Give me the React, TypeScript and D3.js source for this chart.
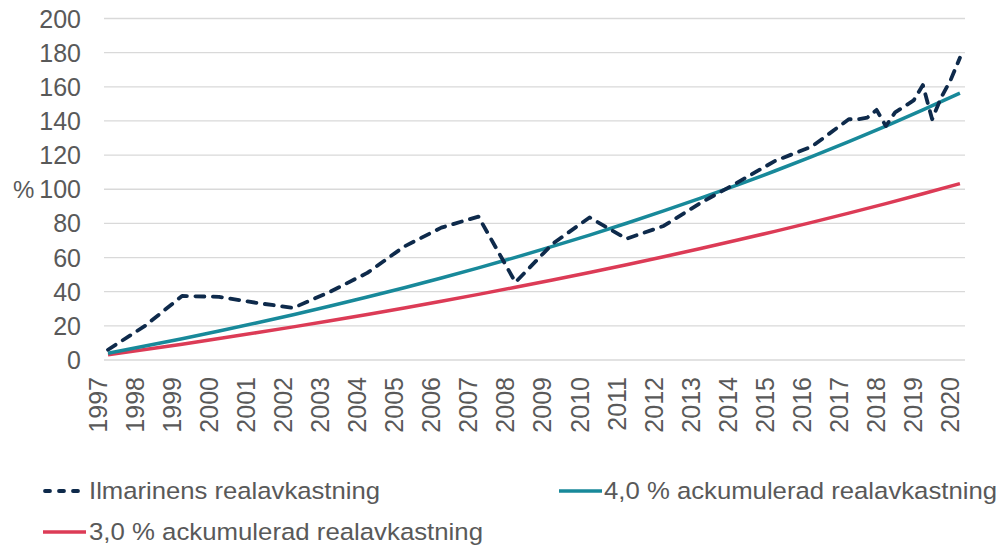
import React from "react";
import * as d3 from "d3";

// ---- data ----
const years = [1997, 1998, 1999, 2000, 2001, 2002, 2003, 2004, 2005, 2006, 2007, 2008, 2009, 2010, 2011, 2012, 2013, 2014, 2015, 2016, 2017, 2018, 2019, 2020];

// Ilmarinen real return (accumulated %), dated points (annual, quarterly at the end)
const ilmDates = [
  1997, 1998, 1999, 2000, 2001, 2002, 2003, 2004, 2005, 2006, 2007, 2008, 2009, 2010, 2011, 2012, 2013, 2014, 2015, 2016,
  2017, 2017.25, 2017.5, 2017.75, 2018, 2018.25, 2018.5, 2018.75, 2019, 2019.25, 2019.5, 2019.75, 2020,
];
const ilmValues = [
  6, 20, 37.5, 37, 33.5, 30.5, 40, 51, 66.5, 77.5, 84, 45.5, 68, 83.5, 71, 78.5, 92, 104, 116.5, 125,
  141, 141, 142, 146.5, 137, 145, 148.5, 152, 161, 141, 154, 164, 177,
];

// 4,0 % accumulated real return
const acc4 = [4.0, 8.16, 12.49, 16.99, 21.67, 26.53, 31.59, 36.86, 42.33, 48.02, 53.95, 60.1, 66.51, 73.17, 80.09, 87.3, 94.79, 102.58, 110.68, 119.11, 127.88, 136.99, 146.47, 156.33];
// 3,0 % accumulated real return
const acc3 = [3.0, 6.09, 9.27, 12.55, 15.93, 19.41, 22.99, 26.68, 30.48, 34.39, 38.42, 42.58, 46.85, 51.26, 55.8, 60.47, 65.28, 70.24, 75.35, 80.61, 86.03, 91.61, 97.36, 103.28];

const yTicks = [0, 20, 40, 60, 80, 100, 120, 140, 160, 180, 200];

const seriesNames = ["Ilmarinens realavkastning", "4,0 % ackumulerad realavkastning", "3,0 % ackumulerad realavkastning"];
const colors = { ilm: "#0e2a4b", acc4: "#18899a", acc3: "#dc3b56" };

// ---- layout ----
const W = 1000;
const H = 547;
const plotLeft = 104;
const plotRight = 965;
const plotTop = 18.5;
const plotBottom = 360;
const font = "'Liberation Sans', Arial, sans-serif";
const textColor = "#595959";

export default function App() {
  const x = d3.scaleLinear().domain([1996.892, 2020.137]).range([plotLeft, plotRight]);
  const y = d3.scaleLinear().domain([0, 200]).range([plotBottom, plotTop]);

  const line = d3
    .line<[number, number]>()
    .x((d) => x(d[0]))
    .y((d) => y(d[1]));

  const ilmPath = line(ilmDates.map((t, i) => [t, ilmValues[i]] as [number, number])) || "";
  const acc4Path = line(years.map((t, i) => [t, acc4[i]] as [number, number])) || "";
  const acc3Path = line(years.map((t, i) => [t, acc3[i]] as [number, number])) || "";

  return (
    <svg width={W} height={H} style={{ position: "absolute", left: 0, top: 0, background: "#fff" }} fontFamily={font}>
      {/* gridlines */}
      {yTicks.map((v) => (
        <line key={v} x1={plotLeft} x2={plotRight} y1={y(v)} y2={y(v)} stroke="#d9d9d9" strokeWidth={1.3} />
      ))}
      {/* y tick labels */}
      {yTicks.map((v) => (
        <text key={"t" + v} x={81} y={y(v)} dy="0.36em" textAnchor="end" fontSize={25} fill={textColor}>
          {v}
        </text>
      ))}
      <text x={13} y={y(100)} dy="0.36em" fontSize={24} fill={textColor}>
        %
      </text>
      {/* x labels */}
      {years.map((yr) => (
        <text
          key={"x" + yr}
          transform={`translate(${x(yr) - 1},${377}) rotate(-90)`}
          textAnchor="end"
          fontSize={25}
          fill={textColor}
        >
          {yr}
        </text>
      ))}
      {/* lines */}
      <path d={acc3Path} fill="none" stroke={colors.acc3} strokeWidth={3.5} strokeLinejoin="round" />
      <path d={acc4Path} fill="none" stroke={colors.acc4} strokeWidth={3.5} strokeLinejoin="round" />
      <path
        d={ilmPath}
        fill="none"
        stroke={colors.ilm}
        strokeWidth={3.8}
        strokeDasharray="9 8.5"
        strokeLinecap="round"
        strokeLinejoin="round"
      />
      {/* legend */}
      <line x1={45} x2={85} y1={491} y2={491} stroke={colors.ilm} strokeWidth={3.8} strokeDasharray="5 9" strokeLinecap="round" />
      <text x={89} y={499} fontSize={24.5} fill={textColor} textLength={291} lengthAdjust="spacingAndGlyphs">{seriesNames[0]}</text>
      <line x1={559} x2={602} y1={491} y2={491} stroke={colors.acc4} strokeWidth={3.5} />
      <text x={604} y={499} fontSize={24.5} fill={textColor} textLength={393} lengthAdjust="spacingAndGlyphs">{seriesNames[1]}</text>
      <line x1={43} x2={86} y1={532} y2={532} stroke={colors.acc3} strokeWidth={3.5} />
      <text x={89} y={540} fontSize={24.5} fill={textColor} textLength={394} lengthAdjust="spacingAndGlyphs">{seriesNames[2]}</text>
    </svg>
  );
}
